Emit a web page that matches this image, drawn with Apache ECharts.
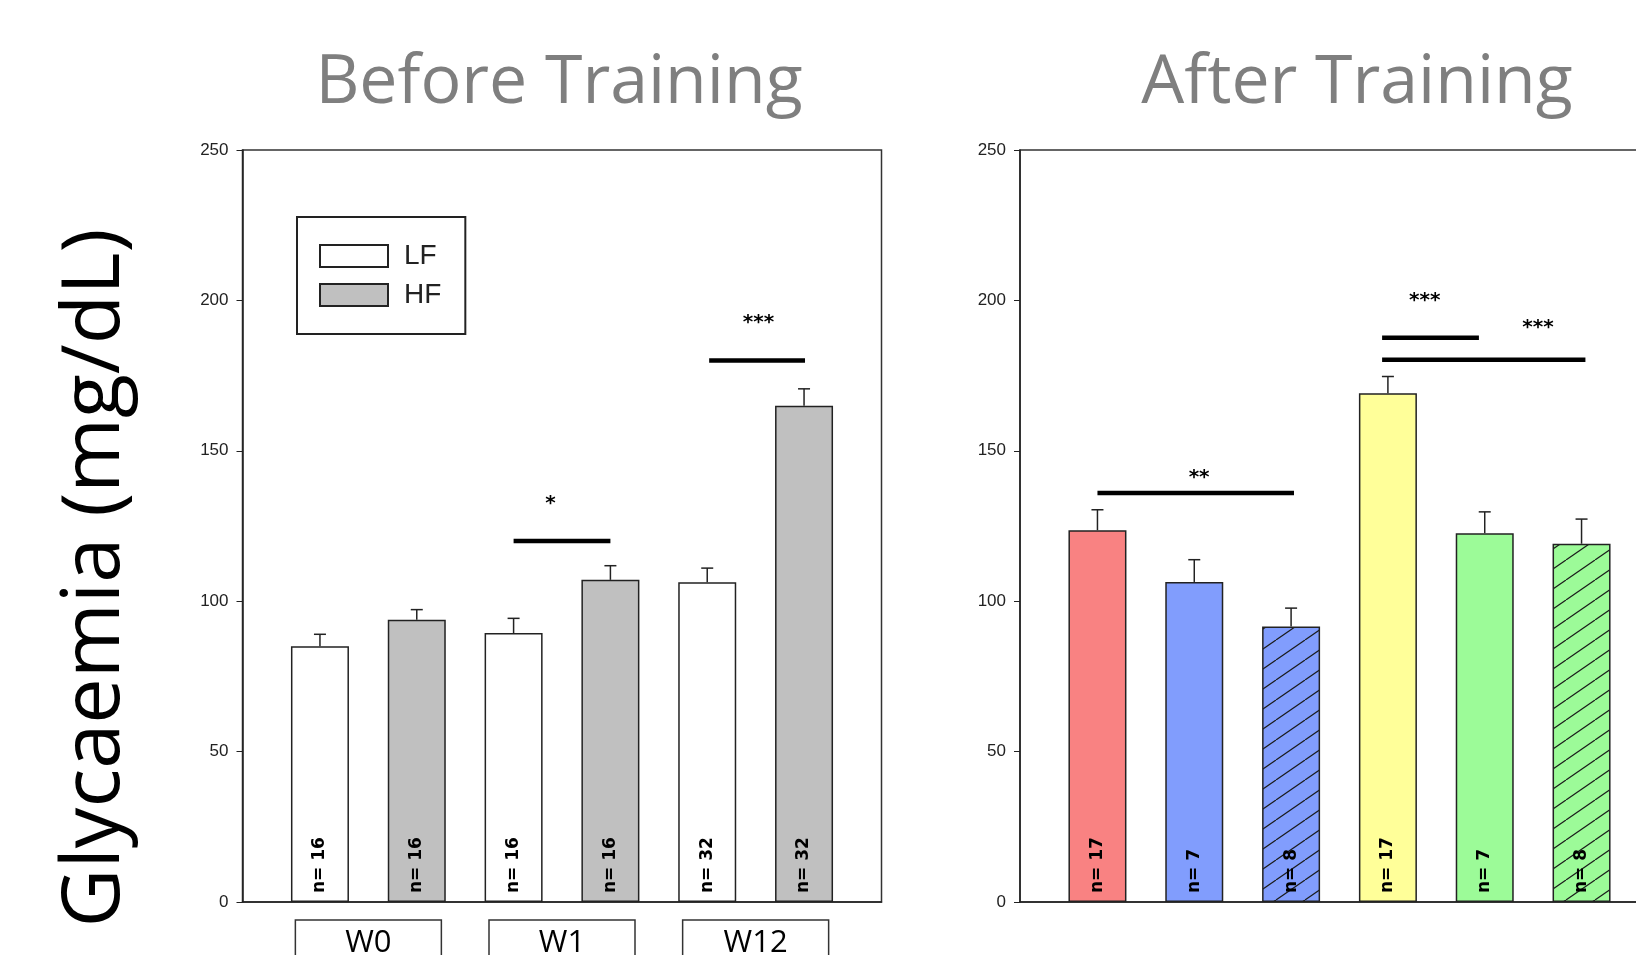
<!DOCTYPE html>
<html>
<head>
<meta charset="utf-8">
<script src="https://cdn.jsdelivr.net/npm/echarts@6/dist/echarts.min.js"></script>
<style>
  html, body { margin: 0; padding: 0; background: #fff; }
  #chart { width: 1636px; height: 955px; }
</style>
</head>
<body>
<div id="chart"></div>
<script>
// Before training: LF vs HF at W0, W1, W12
const beforeGroups = ['W0', 'W1', 'W12'];
const lfMean = [85.0, 89.4, 106.3];
const lfSem = [4.0, 4.9, 4.7];
const lfN = [16, 16, 32];
const hfMean = [93.8, 107.1, 165.0];
const hfSem = [3.4, 4.7, 5.6];
const hfN = [16, 16, 32];

// After training: six groups
const afterMean = [123.6, 106.4, 91.6, 169.1, 122.6, 119.1];
const afterSem = [6.8, 7.4, 6.1, 5.6, 7.1, 8.2];
const afterN = [17, 7, 8, 17, 7, 8];
const afterColors = ['#F98282', '#819DFD', '#819DFD', '#FFFF99', '#9CFB98', '#9CFB98'];
const afterHatched = [false, false, true, false, false, true];

// significance bars: [xFrom, xTo, y, stars, labelX, labelY]
const beforeSig = [
    [3, 4, 120, '*', 3.38, 132.5],
    [5.02, 6.01, 180, '***', 5.53, 192.5]
];
const afterSig = [
    [1, 3.03, 136, '**', 2.05, 141],
    [3.94, 4.94, 187.6, '***', 4.38, 200],
    [3.94, 6.04, 180.3, '***', 5.55, 191]
];

const yMin = 0, yMax = 250, yStep = 50;

function hatch(color) {
    const c = document.createElement('canvas');
    c.width = 29; c.height = 20;
    const ctx = c.getContext('2d');
    ctx.fillStyle = color;
    ctx.fillRect(0, 0, 29, 20);
    ctx.strokeStyle = '#1a1a1a';
    ctx.lineWidth = 1.2;
    [-29, 0, 29].forEach(function (dx) {
        ctx.beginPath();
        ctx.moveTo(dx, 20);
        ctx.lineTo(dx + 29, 0);
        ctx.stroke();
    });
    return { image: c, repeat: 'repeat' };
}

const chart = echarts.init(document.getElementById('chart'));

const nLabel = function (arr) {
    return {
        show: true,
        position: 'insideBottom',
        distance: 9,
        rotate: 90,
        align: 'left',
        verticalAlign: 'middle',
        fontFamily: 'DejaVu Sans',
        fontWeight: 'bold',
        fontSize: 17,
        color: '#000',
        formatter: function (p) { return 'n= ' + arr[p.dataIndex]; }
    };
};

function errRender(params, api) {
    const x = api.value(0), m = api.value(1), e = api.value(2);
    const b = api.coord([x, m]);
    const t = api.coord([x, m + e]);
    const st = { stroke: '#222', lineWidth: 1.5 };
    return {
        type: 'group',
        children: [
            { type: 'line', shape: { x1: b[0], y1: b[1], x2: t[0], y2: t[1] }, style: st },
            { type: 'line', shape: { x1: t[0] - 6, y1: t[1], x2: t[0] + 6, y2: t[1] }, style: st }
        ]
    };
}

function sigRender(params, api) {
    const p1 = api.coord([api.value(0), api.value(2)]);
    const p2 = api.coord([api.value(1), api.value(2)]);
    const pl = api.coord([api.value(4), api.value(5)]);
    return {
        type: 'group',
        children: [
            { type: 'line', shape: { x1: p1[0], y1: p1[1], x2: p2[0], y2: p2[1] }, style: { stroke: '#000', lineWidth: 4.5 } },
            { type: 'text', style: { text: api.value(3), x: pl[0], y: pl[1], align: 'center', verticalAlign: 'middle',
                fontFamily: 'DejaVu Sans', fontWeight: 'bold', fontSize: 20, fill: '#000' } }
        ]
    };
}

const yAxisBase = {
    type: 'value', min: yMin, max: yMax, interval: yStep,
    axisLine: { show: true, lineStyle: { color: '#222', width: 1.5 } },
    axisTick: { show: true, length: 6, lineStyle: { color: '#222', width: 1 } },
    axisLabel: { color: '#222', fontFamily: 'Liberation Sans', fontSize: 17, margin: 14 },
    splitLine: { show: false }
};
const xAxisBase = {
    type: 'value', min: 0.2, max: 6.8,
    axisLine: { show: true, onZero: false, lineStyle: { color: '#222', width: 1.5 } },
    axisTick: { show: false }, axisLabel: { show: false }, splitLine: { show: false }
};
const barStyle = { borderColor: '#222', borderWidth: 1.5 };

const option = {
    animation: false,
    backgroundColor: '#fff',
    title: [
        { text: 'Before Training', left: 554, top: 45, textAlign: 'center',
          textStyle: { fontFamily: 'Open Sans', fontWeight: 'normal', fontSize: 68, color: '#7f7f7f' } },
        { text: 'After Training', left: 1352, top: 45, textAlign: 'center',
          textStyle: { fontFamily: 'Open Sans', fontWeight: 'normal', fontSize: 68, color: '#7f7f7f' } }
    ],
    legend: {
        data: ['LF', 'HF'],
        orient: 'vertical',
        left: 297, top: 217,
        padding: [25, 24, 25, 22],
        icon: 'rect',
        itemWidth: 68, itemHeight: 22, itemGap: 11,
        borderColor: '#222', borderWidth: 2,
        textStyle: { fontFamily: 'Liberation Sans', fontSize: 28, color: '#222', lineHeight: 22, padding: [0, 0, 0, 11] }
    },
    grid: [
        { left: 242.5, top: 150, width: 639, height: 752, outerBoundsMode: 'none',
          show: true, borderColor: '#333', borderWidth: 1.5 },
        { left: 1020, top: 150, width: 639, height: 752, outerBoundsMode: 'none',
          show: true, borderColor: '#333', borderWidth: 1.5 }
    ],
    xAxis: [
        Object.assign({ gridIndex: 0 }, xAxisBase),
        Object.assign({ gridIndex: 1 }, xAxisBase)
    ],
    yAxis: [
        Object.assign({ gridIndex: 0 }, yAxisBase),
        Object.assign({ gridIndex: 1 }, yAxisBase)
    ],
    series: [
        {
            name: 'LF', type: 'bar', xAxisIndex: 0, yAxisIndex: 0,
            barWidth: 58, barGap: '-100%',
            itemStyle: Object.assign({ color: '#fff' }, barStyle),
            label: nLabel(lfN),
            data: lfMean.map(function (v, i) { return [2 * i + 1, v]; })
        },
        {
            name: 'HF', type: 'bar', xAxisIndex: 0, yAxisIndex: 0,
            barWidth: 58, barGap: '-100%',
            itemStyle: Object.assign({ color: '#c0c0c0' }, barStyle),
            label: nLabel(hfN),
            data: hfMean.map(function (v, i) { return [2 * i + 2, v]; })
        },
        {
            name: 'After', type: 'bar', xAxisIndex: 1, yAxisIndex: 1,
            barWidth: 58,
            label: nLabel(afterN),
            data: afterMean.map(function (v, i) {
                return {
                    value: [i + 1, v],
                    itemStyle: Object.assign({ color: afterHatched[i] ? hatch(afterColors[i]) : afterColors[i] }, barStyle)
                };
            })
        },
        {
            type: 'custom', xAxisIndex: 0, yAxisIndex: 0, renderItem: errRender, encode: { x: 0, y: 1 },
            data: lfMean.map(function (v, i) { return [2 * i + 1, v, lfSem[i]]; })
                .concat(hfMean.map(function (v, i) { return [2 * i + 2, v, hfSem[i]]; }))
        },
        {
            type: 'custom', xAxisIndex: 1, yAxisIndex: 1, renderItem: errRender, encode: { x: 0, y: 1 },
            data: afterMean.map(function (v, i) { return [i + 1, v, afterSem[i]]; })
        },
        {
            type: 'custom', xAxisIndex: 0, yAxisIndex: 0, renderItem: sigRender, encode: { x: 0, y: 2 },
            data: beforeSig
        },
        {
            type: 'custom', xAxisIndex: 1, yAxisIndex: 1, renderItem: sigRender, encode: { x: 0, y: 2 },
            data: afterSig
        }
    ]
};

chart.setOption(option);

// group boxes under the "before" panel, plus the y title
const graphics = [{
    type: 'text', x: 96, y: 578, rotation: Math.PI / 2,
    style: { text: 'Glycaemia (mg/dL)', align: 'center', verticalAlign: 'middle',
             fontFamily: 'Open Sans', fontSize: 81, fill: '#000' }
}];
beforeGroups.forEach(function (g, i) {
    const cx = chart.convertToPixel({ xAxisIndex: 0 }, 2 * i + 1.5);
    graphics.push({
        type: 'rect', shape: { x: cx - 73, y: 920, width: 146, height: 60 },
        style: { fill: '#fff', stroke: '#333', lineWidth: 1.5 }
    });
    graphics.push({
        type: 'text', x: cx, y: 943,
        style: { text: g, align: 'center', verticalAlign: 'middle', fontFamily: 'Open Sans', fontSize: 31, fill: '#000' }
    });
});
chart.setOption({ graphic: graphics });

window.addEventListener('resize', function () { chart.resize(); });
</script>
</body>
</html>
